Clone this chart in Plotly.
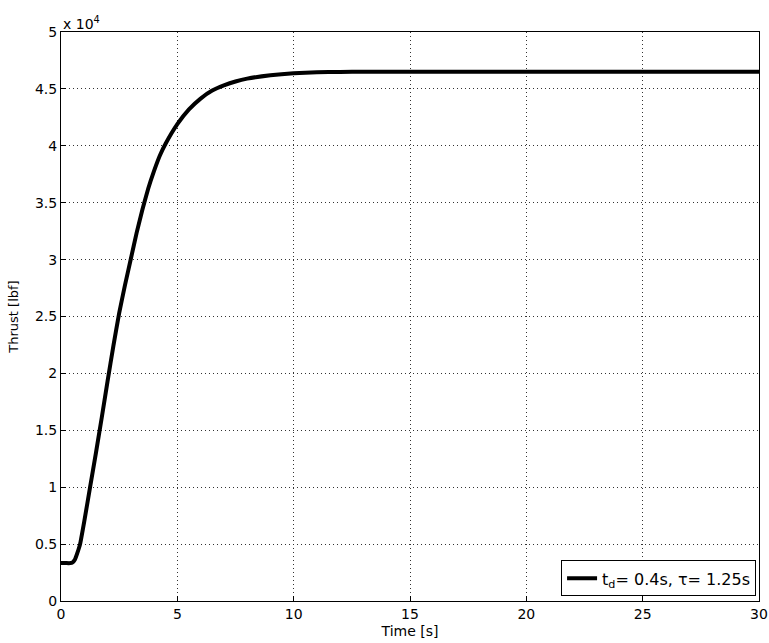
import plotly.graph_objects as go

time_s = [0, 0.2, 0.4, 0.5, 0.6, 0.7, 0.82, 1.0, 1.25, 1.5, 1.75, 2.0, 2.25, 2.5, 2.75, 3.0,
          3.25, 3.5, 3.75, 4.0, 4.25, 4.5, 5.0, 5.5, 6.0, 6.5, 7.0, 7.5, 8.0, 9.0, 10.0, 11.0,
          12.0, 13.0, 20.0, 30.0]
thrust_lbf = [3330, 3330, 3330, 3400, 3650, 4200, 5000, 7000, 10000, 13000, 16100, 19300,
              22400, 25300, 27750, 30050, 32350, 34400, 36250, 37800, 39150, 40200, 41900,
              43200, 44150, 44850, 45300, 45650, 45900, 46200, 46380, 46460, 46490, 46500,
              46500, 46500]

x_ticks = [0, 5, 10, 15, 20, 25, 30]
y_ticks = [0, 5000, 10000, 15000, 20000, 25000, 30000, 35000, 40000, 45000, 50000]
y_tick_labels = ["0", "0.5", "1", "1.5", "2", "2.5", "3", "3.5", "4", "4.5", "5"]

fig = go.Figure()
fig.add_trace(go.Scatter(
    x=time_s, y=thrust_lbf, mode="lines",
    line=dict(color="black", width=4, shape="spline", smoothing=0.35),
    name="t<sub>d</sub>= 0.4s, τ= 1.25s",
))

font_family = "DejaVu Sans, Liberation Sans, Arial, sans-serif"
axis_common = dict(
    showline=True, linecolor="black", linewidth=1, mirror=True,
    ticks="inside", ticklen=5, tickcolor="black",
    showgrid=True, gridcolor="#333333", gridwidth=1, griddash="1px,3px",
    zeroline=False, automargin=False,
    tickfont=dict(family=font_family, size=14, color="black"),
)

fig.update_layout(
    width=769, height=643,
    margin=dict(l=61, r=10, t=32, b=42),
    paper_bgcolor="white", plot_bgcolor="white",
    font=dict(family=font_family, size=13, color="black"),
    xaxis=dict(range=[0, 30], tickvals=x_ticks, **axis_common,
               title=dict(text="Time [s]", standoff=5, font=dict(size=14))),
    yaxis=dict(range=[0, 50000], tickvals=y_ticks, ticktext=y_tick_labels, **axis_common,
               title=dict(text="Thrust [lbf]", standoff=13, font=dict(size=13))),
    showlegend=True,
    legend=dict(x=0.9958, y=0.008, xanchor="right", yanchor="bottom",
                bgcolor="white", bordercolor="black", borderwidth=1,
                font=dict(family=font_family, size=16, color="black")),
)
fig.add_annotation(text="x 10<sup>4</sup>", xref="paper", yref="paper", x=0.0, y=1.0,
                   xanchor="left", yanchor="bottom", showarrow=False,
                   font=dict(family=font_family, size=14, color="black"), yshift=-2)

# remove the default 8px page margin so the figure fills the 769x643 window exactly
fig.write_html("out.html", config={"displayModeBar": False},
               post_script="document.body.style.margin='0';")
